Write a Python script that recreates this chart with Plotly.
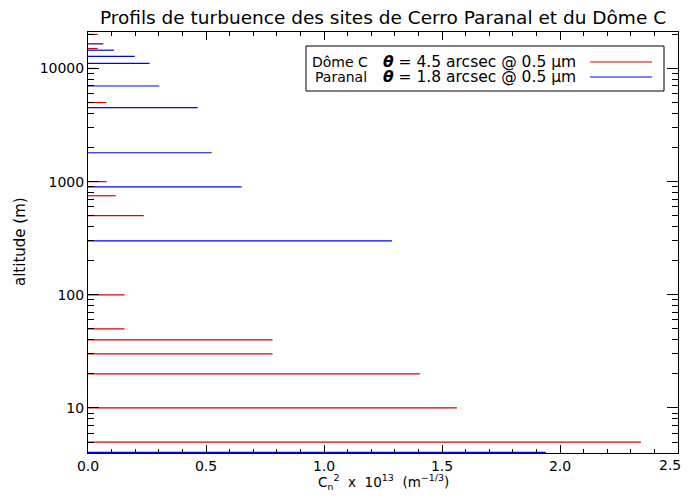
import plotly.graph_objects as go

# Dôme C profile (altitude m, Cn2 x 1e13)
domec_alt = [20000, 15000, 10000, 5000, 1000, 750, 500, 100, 50, 40, 30, 20, 10, 5]
domec_val = [0.041, 0.041, 0.040, 0.078, 0.079, 0.117, 0.236, 0.155, 0.155, 0.782, 0.782, 1.406, 1.563, 2.343]

# Paranal profile
paranal_alt = [16500, 14500, 12800, 11100, 7000, 4500, 1800, 900, 300, 4.05]
paranal_val = [0.065, 0.110, 0.198, 0.261, 0.302, 0.465, 0.524, 0.651, 1.288, 1.940]

x_ticks = [0.0, 0.5, 1.0, 1.5, 2.0, 2.5]
x_ticklabels = ["0.0", "0.5", "1.0", "1.5", "2.0", "2.5"]
y_ticks = [10, 100, 1000, 10000]
y_ticklabels = ["10", "100", "1000", "10000"]

RED = "#e00000"
BLUE = "#0000ff"
FONT = "DejaVu Sans"


def segments(alts, vals):
    xs, ys = [], []
    for a, v in zip(alts, vals):
        xs += [0, v, None]
        ys += [a, a, None]
    return xs, ys


fig = go.Figure()
for alts, vals, col, name in [(domec_alt, domec_val, RED, "Dôme C"),
                              (paranal_alt, paranal_val, BLUE, "Paranal")]:
    xs, ys = segments(alts, vals)
    fig.add_trace(go.Scatter(x=xs, y=ys, mode="lines", name=name,
                             line=dict(color=col, width=1.2),
                             showlegend=False, hoverinfo="skip"))

OFF = 8  # page body margin
# figure fits inside the 690x499 window without scrollbars
W, H = 690 - 2 * OFF, 499 - 2 * OFF
# plot area in window pixels: x 88..678, y 32..453
L, T = 88 - OFF, 32 - OFF
R = W - (678 - OFF)
B = H - (453 - OFF)
pw, ph = W - L - R, H - T - B


def px(x):
    return (x - OFF - L) / pw


def py(y):
    return (H - B - (y - OFF)) / ph


minor_y = [m * 10 ** e for e in range(0, 5) for m in range(2, 10)]

# last x label would fall past the figure edge: drawn as an annotation instead
shown_xlabels = x_ticklabels[:-1] + [""]

fig.update_layout(
    width=W, height=H,
    margin=dict(l=L, r=R, t=T, b=B),
    paper_bgcolor="white", plot_bgcolor="white",
    font=dict(family=FONT, size=13, color="black"),
    title=dict(text="Profils de turbuence des sites de Cerro Paranal et du Dôme C",
               xref="paper", x=px(383), xanchor="center",
               yref="container", y=1 - (18 - OFF) / H, yanchor="middle",
               font=dict(size=18.5, family=FONT)),
    xaxis=dict(range=[0, 2.5], tickvals=x_ticks, ticktext=shown_xlabels,
               showgrid=False, zeroline=False, showline=True, linecolor="black",
               linewidth=1, mirror="ticks", ticks="inside", ticklen=8,
               tickcolor="black", tickfont=dict(size=14),
               minor=dict(dtick=0.1, ticks="inside", ticklen=4, tickcolor="black",
                          showgrid=False)),
    yaxis=dict(type="log", range=[0.6021, 4.3222], tickvals=y_ticks,
               ticktext=y_ticklabels, showgrid=False, zeroline=False,
               showline=True, linecolor="black", linewidth=1, mirror="ticks",
               ticks="inside", ticklen=11, tickcolor="black", tickfont=dict(size=14),
               minor=dict(tickvals=minor_y, ticks="inside", ticklen=6,
                          tickcolor="black", showgrid=False)),
)

fig.add_annotation(text=x_ticklabels[-1], xref="paper", yref="paper",
                   x=(W - L) / pw, y=py(465), xanchor="right", yanchor="middle",
                   showarrow=False, font=dict(size=14), borderpad=0)

# axis titles
fig.add_annotation(text="C<sub>n</sub><sup>2</sup>  x  10<sup>13</sup>  (m<sup>−1/3</sup>)",
                   xref="paper", yref="paper", x=px(383), y=py(482),
                   xanchor="center", yanchor="middle", showarrow=False,
                   font=dict(size=13.5), borderpad=0)
fig.add_annotation(text="altitude (m)", textangle=-90,
                   xref="paper", yref="paper", x=px(20), y=py(242),
                   xanchor="center", yanchor="middle", showarrow=False,
                   font=dict(size=15))

# legend box
fig.add_shape(type="rect", xref="paper", yref="paper",
              x0=px(306), x1=px(664), y0=py(91), y1=py(46),
              line=dict(color="black", width=1), fillcolor="white", layer="above")
legend_rows = [("Dôme C", 311, 62, "4.5", RED), ("Paranal", 314, 77, "1.8", BLUE)]
for name, nx, yy, seeing, col in legend_rows:
    fig.add_annotation(text=name, xref="paper", yref="paper", x=px(nx), y=py(yy),
                       xanchor="left", yanchor="middle", showarrow=False,
                       font=dict(size=14), borderpad=0)
    fig.add_annotation(text=f"<b><i>θ</i></b> = {seeing} arcsec @ 0.5 µm",
                       xref="paper", yref="paper", x=px(382), y=py(yy),
                       xanchor="left", yanchor="middle", showarrow=False,
                       font=dict(size=15.5), borderpad=0)
    fig.add_shape(type="line", xref="paper", yref="paper",
                  x0=px(590), x1=px(652), y0=py(yy), y1=py(yy),
                  line=dict(color=col, width=1.2), layer="above")

fig.write_html("out.html", config={"displayModeBar": False})
